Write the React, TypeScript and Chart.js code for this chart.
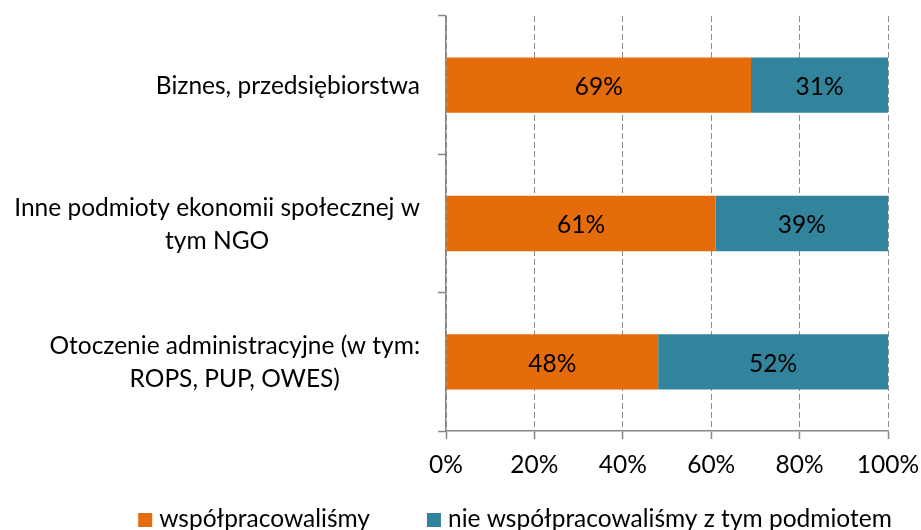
import React, { useEffect, useRef } from 'react';
import { Chart, registerables } from 'chart.js';

Chart.register(...registerables);

// ---- data ----
const categoryLines: string[][] = [
  ['Biznes, przedsiębiorstwa'],
  ['Inne podmioty ekonomii społecznej w', 'tym NGO'],
  ['Otoczenie administracyjne (w tym:', 'ROPS, PUP, OWES)'],
];
const seriesNames = ['współpracowaliśmy', 'nie współpracowaliśmy z tym podmiotem'];
const cooperated = [69, 61, 48];
const notCooperated = [31, 39, 52];
const xTickValues = [0, 20, 40, 60, 80, 100];

// ---- styles ----
const FAMILY = 'Lato, "Open Sans", sans-serif';
const FS = 24.5;
const LINE_H = 33;
const ORANGE = '#E46C0A';
const TEAL = '#31849B';
const AXIS = '#868686';
const GRID = '#8C8C8C';

const customDraw = {
  id: 'customDraw',
  afterDatasetsDraw(chart: any) {
    const { ctx } = chart;
    ctx.save();
    ctx.font = `${FS}px ${FAMILY}`;
    ctx.fillStyle = '#000';
    ctx.textAlign = 'center';
    ctx.textBaseline = 'middle';
    chart.data.datasets.forEach((ds: any, di: number) => {
      const meta = chart.getDatasetMeta(di);
      meta.data.forEach((el: any, i: number) => {
        const p = el.getCenterPoint();
        ctx.fillText(`${ds.data[i]}%`, p.x, p.y + 2);
      });
    });
    ctx.restore();
  },
  afterDraw(chart: any) {
    const { ctx } = chart;
    const yScale = chart.scales.y;
    ctx.save();
    ctx.font = `${FS}px ${FAMILY}`;
    ctx.fillStyle = '#000';
    ctx.textAlign = 'center';
    ctx.textBaseline = 'middle';
    // category labels: block right-aligned, lines centered within block
    categoryLines.forEach((lines, i) => {
      const yc = yScale.getPixelForValue(i);
      const widest = Math.max(...lines.map((l) => ctx.measureText(l).width));
      const cx = yScale.right - 26 - widest / 2;
      lines.forEach((l, j) => {
        ctx.fillText(l, cx, yc + (j - (lines.length - 1) / 2) * LINE_H + 1);
      });
    });
    // legend
    const box = 14;
    const gapText = 7;
    const gapItem = 57;
    const colors = [ORANGE, TEAL];
    const widths = seriesNames.map((n) => ctx.measureText(n).width);
    const total = widths.reduce((a, w) => a + box + gapText + w, 0) + gapItem;
    let x = 515 - total / 2;
    const base = 527;
    ctx.textAlign = 'left';
    ctx.textBaseline = 'alphabetic';
    seriesNames.forEach((n, i) => {
      ctx.fillStyle = colors[i];
      ctx.fillRect(x, base - 14, box, box);
      ctx.fillStyle = '#000';
      ctx.fillText(n, x + box + gapText, base);
      x += box + gapText + widths[i] + gapItem;
    });
    ctx.restore();
  },
};

export default function App() {
  const ref = useRef<HTMLCanvasElement | null>(null);

  useEffect(() => {
    document.body.style.margin = '0';
    const canvas = ref.current;
    if (!canvas) return;
    const chart = new Chart(canvas, {
      type: 'bar',
      data: {
        labels: categoryLines.map((l) => l.join(' ')),
        datasets: [
          {
            label: seriesNames[0],
            data: cooperated,
            backgroundColor: ORANGE,
            borderWidth: 0,
            barPercentage: 0.4,
            categoryPercentage: 1,
          },
          {
            label: seriesNames[1],
            data: notCooperated,
            backgroundColor: TEAL,
            borderWidth: 0,
            barPercentage: 0.4,
            categoryPercentage: 1,
          },
        ],
      },
      options: {
        indexAxis: 'y',
        animation: false,
        responsive: false,
        devicePixelRatio: 1,
        layout: { padding: { top: 16, right: 33, bottom: 0, left: 0 } },
        plugins: {
          legend: { display: false },
          tooltip: { enabled: false },
        },
        scales: {
          x: {
            stacked: true,
            min: 0,
            max: 100,
            afterBuildTicks: (s: any) => {
              s.ticks = xTickValues.map((v) => ({ value: v }));
            },
            ticks: {
              callback: (v: any) => `${v}%`,
              font: { family: FAMILY, size: FS },
              color: '#000',
              padding: 11,
              maxRotation: 0,
              autoSkip: false,
            },
            grid: {
              color: GRID,
              lineWidth: 1,
              drawTicks: true,
              tickLength: 8,
              tickColor: AXIS,
              tickBorderDash: [],
              tickWidth: 1.5,
            },
            border: { display: true, color: AXIS, width: 1.5, dash: [6, 3] },
            afterFit: (s: any) => {
              s.height = 99;
              s.paddingLeft = 0;
              s.paddingRight = 0;
            },
          },
          y: {
            stacked: true,
            ticks: { display: false },
            grid: {
              display: true,
              drawOnChartArea: false,
              drawTicks: true,
              tickLength: 8,
              color: AXIS,
              tickColor: AXIS,
              tickWidth: 1.5,
              offset: true,
            },
            border: { display: true, color: AXIS, width: 1.5 },
            afterFit: (s: any) => {
              s.width = 446;
              s.paddingTop = 0;
              s.paddingBottom = 0;
            },
          },
        },
      },
      plugins: [customDraw],
    });
    return () => chart.destroy();
  }, []);

  return (
    <div style={{ width: 921, height: 530, overflow: 'hidden' }}>
      <canvas ref={ref} width={921} height={530} style={{ display: 'block' }} />
    </div>
  );
}
